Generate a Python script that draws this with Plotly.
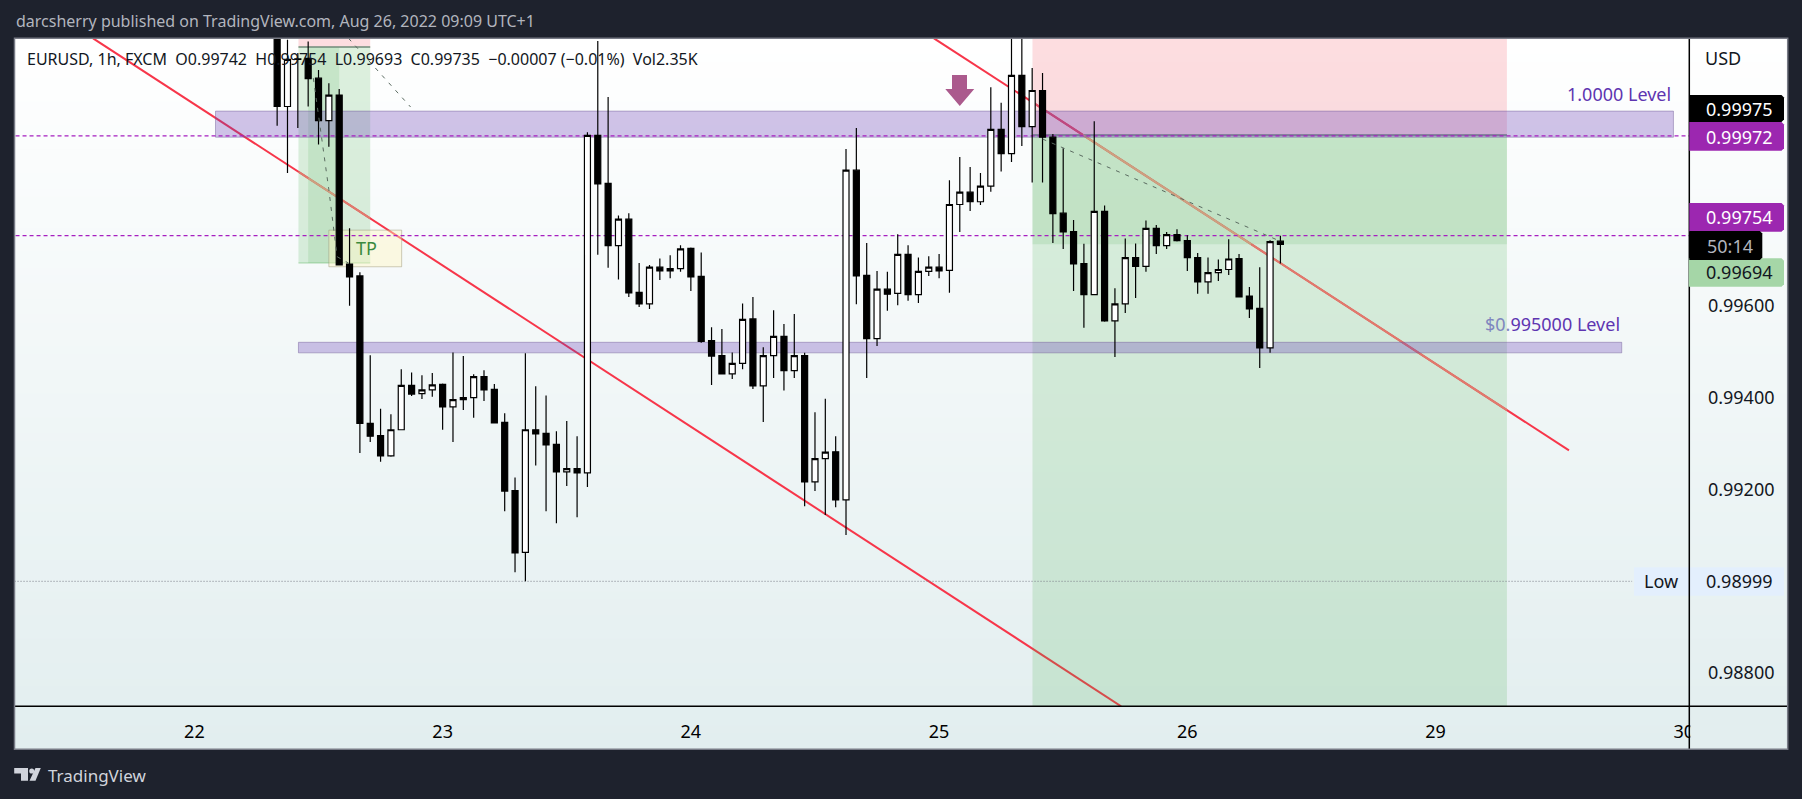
import plotly.graph_objects as go

W, H = 1802, 799
FONT = "Noto Sans"

# ---------- data ----------
bar_index = list(range(8, 106))
opens = [1.00350,1.00036,1.00139,1.00141,1.00098,1.00005,1.00061,0.99692,0.99666,0.99344,0.99317,0.99273,0.99330,0.99427,0.99409,0.99417,0.99429,0.99380,0.99396,0.99400,0.99446,0.99418,0.99346,0.99197,0.99062,0.99330,0.99322,0.99298,0.99238,0.99245,0.99236,0.99973,0.99868,0.99732,0.99790,0.99630,0.99605,0.99685,0.99677,0.99682,0.99726,0.99665,0.99525,0.99492,0.99452,0.99475,0.99572,0.99426,0.99492,0.99534,0.99459,0.99492,0.99216,0.99267,0.99282,0.99177,0.99897,0.99667,0.99529,0.99637,0.99628,0.99713,0.99625,0.99676,0.99685,0.99678,0.99822,0.99849,0.99828,0.99862,0.99986,0.99933,1.00104,0.99992,1.00071,0.99969,0.99803,0.99763,0.99693,0.99625,0.99807,0.99568,0.99605,0.99706,0.99687,0.99770,0.99732,0.99756,0.99743,0.99706,0.99653,0.99673,0.99680,0.99704,0.99622,0.99595,0.99509,0.99742]
highs = [1.00400,1.00182,1.00153,1.00178,1.00116,1.00087,1.00074,0.99770,0.99674,0.99493,0.99376,0.99364,0.99462,0.99455,0.99449,0.99454,0.99431,0.99499,0.99491,0.99451,0.99460,0.99430,0.99366,0.99226,0.99497,0.99425,0.99405,0.99327,0.99349,0.99316,0.99980,1.00179,1.00057,0.99798,0.99803,0.99694,0.99690,0.99704,0.99711,0.99733,0.99728,0.99717,0.99554,0.99550,0.99499,0.99606,0.99620,0.99510,0.99591,0.99561,0.99583,0.99498,0.99368,0.99398,0.99316,0.99943,0.99989,0.99738,0.99677,0.99675,0.99757,0.99733,0.99706,0.99709,0.99714,0.99875,0.99926,0.99904,0.99891,1.00078,1.00044,1.00230,1.00230,1.00120,1.00109,0.99976,0.99945,0.99788,0.99736,1.00004,0.99820,0.99639,0.99748,0.99737,0.99787,0.99777,0.99762,0.99768,0.99755,0.99716,0.99706,0.99702,0.99746,0.99714,0.99642,0.99685,0.99744,0.99754]
lows = [0.99994,0.99891,0.99989,1.00036,0.99953,0.99948,0.99689,0.99601,0.99279,0.99303,0.99260,0.99271,0.99330,0.99404,0.99397,0.99402,0.99330,0.99303,0.99373,0.99356,0.99393,0.99345,0.99152,0.99019,0.98999,0.99252,0.99152,0.99126,0.99207,0.99139,0.99205,0.99712,0.99684,0.99658,0.99620,0.99598,0.99594,0.99657,0.99661,0.99675,0.99633,0.99520,0.99428,0.99452,0.99441,0.99462,0.99419,0.99347,0.99443,0.99416,0.99443,0.99163,0.99196,0.99144,0.99161,0.99100,0.99604,0.99443,0.99513,0.99590,0.99602,0.99612,0.99607,0.99666,0.99661,0.99629,0.99762,0.99808,0.99821,0.99850,0.99894,0.99915,0.99950,0.99870,0.99870,0.99738,0.99725,0.99633,0.99553,0.99625,0.99566,0.99489,0.99585,0.99618,0.99675,0.99714,0.99725,0.99741,0.99677,0.99627,0.99627,0.99655,0.99668,0.99620,0.99574,0.99465,0.99498,0.99693]
closes = [1.00036,1.00139,1.00140,1.00097,1.00005,1.00061,0.99690,0.99664,0.99344,0.99316,0.99273,0.99330,0.99427,0.99408,0.99417,0.99428,0.99380,0.99396,0.99400,0.99446,0.99417,0.99345,0.99196,0.99061,0.99330,0.99321,0.99297,0.99238,0.99245,0.99236,0.99973,0.99867,0.99732,0.99790,0.99629,0.99605,0.99685,0.99677,0.99682,0.99725,0.99664,0.99523,0.99491,0.99452,0.99475,0.99571,0.99426,0.99492,0.99534,0.99459,0.99492,0.99216,0.99267,0.99281,0.99177,0.99897,0.99666,0.99529,0.99637,0.99626,0.99713,0.99625,0.99676,0.99685,0.99677,0.99822,0.99849,0.99828,0.99862,0.99986,0.99933,1.00104,0.99992,1.00071,0.99969,0.99802,0.99762,0.99692,0.99625,0.99807,0.99568,0.99605,0.99706,0.99687,0.99770,0.99732,0.99756,0.99743,0.99706,0.99653,0.99673,0.99680,0.99703,0.99620,0.99594,0.99509,0.99741,0.99735]

day_ticks = [0, 24, 48, 72, 96, 120, 144]
day_labels = ["22", "23", "24", "25", "26", "29", "30"]
price_ticks = [0.996, 0.994, 0.992, 0.988]
price_labels = ["0.99600", "0.99400", "0.99200", "0.98800"]

trend1_x, trend1_y = [-9.8, 89.6], [1.00185, 0.98726]
trend2_x, trend2_y = [71.5, 132.9], [1.00185, 0.99285]
zone_top = (2.04, 143.0, 0.99969, 1.00026)
zone_low = (10.06, 138.0, 0.99498, 0.99521)
position_x = (81.03, 126.9)
position_entry, position_now = 0.99974, 0.99735
small_pos_x = (10.06, 17.0)
small_pos_fill_x = (11.0, 14.0)
small_pos_entry, small_pos_target = 1.00166, 0.99694
tp_box = (13.0, 20.04, 0.99686, 0.99766)
level_a, level_b, low_level = 0.99972, 0.99754, 0.98999
low_line_end = 139.0

path_a_x, path_a_y = [14.9, 20.9], [1.00185, 1.00035]
path_b_x, path_b_y = [11.5, 12.4, 13.0, 13.8, 14.9], [1.00098, 0.99948, 0.99854, 0.99708, 0.99694]
path_c_x, path_c_y = [82.0, 104.86], [0.99965, 0.99743]
arrow_x = [73.25, 74.7, 74.7, 75.4, 74.0, 72.6, 73.25, 73.25]
arrow_y = [1.00105, 1.00105, 1.00074, 1.00074, 1.00037, 1.00074, 1.00074, 1.00105]

# ---------- frame geometry ----------
PL, PT, PR, PB = 14.5, 38.3, 1689.3, 706.3   # plot area
FR, FB = 1787.7, 749.3                        # outer panel
X0, DX = 194.4, 10.343
Y_TOP, Y_BOT = 1.00185, 0.98726

def fx(p): return p / W
def fy(p): return 1 - p / H

shapes = []
def rect_paper(x0, y0, x1, y1, fill=None, line=None, lw=0, layer="above"):
    shapes.append(dict(type="rect", xref="paper", yref="paper", x0=fx(x0), x1=fx(x1),
                       y0=fy(y1), y1=fy(y0), fillcolor=fill or "rgba(0,0,0,0)",
                       line=dict(color=line or "rgba(0,0,0,0)", width=lw), layer=layer))
def rect_data(x0, x1, y0, y1, fill, line=None, lw=0):
    shapes.append(dict(type="rect", xref="x", yref="y", x0=x0, x1=x1, y0=y0, y1=y1,
                       fillcolor=fill, line=dict(color=line or "rgba(0,0,0,0)", width=lw), layer="below"))
def line_data(x0, x1, y0, y1, color, width=1, dash="solid"):
    shapes.append(dict(type="line", xref="x", yref="y", x0=x0, x1=x1, y0=y0, y1=y1,
                       line=dict(color=color, width=width, dash=dash), layer="below"))

# panel gradient: each strip runs to the panel bottom, so no seams can show
STRIPS = 90
top_c, bot_c = (255, 255, 255), (226, 238, 239)
for k in range(STRIPS):
    t = k / (STRIPS - 1)
    c = tuple(round(a + (b - a) * t) for a, b in zip(top_c, bot_c))
    y0 = PT + (FB - PT) * k / STRIPS
    rect_paper(PL, y0, FR, FB, fill="rgb(%d,%d,%d)" % c, layer="below")

RED = "rgba(242,54,69,0.17)"
GREEN = "rgba(76,175,80,0.19)"
DARK = "rgba(76,175,80,0.15)"
RED_LINE = "#f7364a"
LINE_ON_LIGHT = "#e2796d"
LINE_ON_DARK = "#cf9f80"
LINE_ON_RED = "#e2506a"

# trend lines (under the position tools)
line_data(trend1_x[0], trend1_x[1], trend1_y[0], trend1_y[1], RED_LINE, 2)
line_data(trend2_x[0], trend2_x[1], trend2_y[0], trend2_y[1], RED_LINE, 2)

# short position, right
rect_data(position_x[0], position_x[1], position_entry, Y_TOP, RED)
rect_data(position_x[0], position_x[1], Y_BOT, position_entry, GREEN)
rect_data(position_x[0], position_x[1], position_now, position_entry, DARK)
line_data(position_x[0], position_x[1], position_entry, position_entry, "#6f8a78", 1.5)

# short position, left
rect_data(small_pos_x[0], small_pos_x[1], small_pos_entry, Y_TOP, RED)
rect_data(small_pos_x[0], small_pos_x[1], small_pos_target, small_pos_entry, GREEN)
rect_data(small_pos_fill_x[0], small_pos_fill_x[1], small_pos_target, small_pos_entry, DARK)
line_data(small_pos_x[0], small_pos_x[1], small_pos_entry, small_pos_entry, "#6f8a78", 1.5)
line_data(small_pos_x[0], small_pos_x[1], small_pos_target, small_pos_target, "rgba(76,175,80,0.3)", 1.5)

# TP box
rect_data(tp_box[0], tp_box[1], tp_box[2], tp_box[3], "rgba(255,245,190,0.42)", "rgba(150,145,110,0.45)", 1)

# trend-line stretches that lie under the translucent tools
def on_line(xs, ys, y):
    return xs[0] + (y - ys[0]) * (xs[1] - xs[0]) / (ys[1] - ys[0])
def at_x(xs, ys, x):
    return ys[0] + (x - xs[0]) * (ys[1] - ys[0]) / (xs[1] - xs[0])
def stretch(xs, ys, x0, x1, color):
    line_data(x0, x1, at_x(xs, ys, x0), at_x(xs, ys, x1), color, 2)

t2_entry = on_line(trend2_x, trend2_y, position_entry)
t2_now = on_line(trend2_x, trend2_y, position_now)
stretch(trend2_x, trend2_y, position_x[0], t2_entry, LINE_ON_RED)
stretch(trend2_x, trend2_y, t2_entry, t2_now, LINE_ON_DARK)
stretch(trend2_x, trend2_y, t2_now, position_x[1], LINE_ON_LIGHT)
stretch(trend1_x, trend1_y, small_pos_x[0], small_pos_fill_x[0], LINE_ON_LIGHT)
stretch(trend1_x, trend1_y, small_pos_fill_x[0], small_pos_fill_x[1], LINE_ON_DARK)
stretch(trend1_x, trend1_y, small_pos_fill_x[1], small_pos_x[1], LINE_ON_LIGHT)

# zones
rect_data(zone_top[0], zone_top[1], zone_top[2], zone_top[3], "rgba(103,58,183,0.30)", "rgba(110,90,150,0.45)", 1)
rect_data(zone_low[0], zone_low[1], zone_low[2], zone_low[3], "rgba(103,58,183,0.30)", "rgba(110,90,150,0.45)", 1)

# levels
line_data(-20, 150, level_a, level_a, "#a61fc0", 1.2, "4px,3px")
line_data(-20, 150, level_b, level_b, "#a61fc0", 1.2, "4px,3px")
line_data(-20, low_line_end, low_level, low_level, "#787b86", 1, "1px,2px")

# ---------- chrome above the plot ----------
rect_paper(PR + 1, PB + 1, FR - 1, FB - 1, fill="#e3eeef")
rect_paper(1634, 567.3, 1784, 595.7, fill="#e3effd")
shapes.append(dict(type="line", xref="paper", yref="paper", x0=fx(PR), x1=fx(PR), y0=fy(PT), y1=fy(FB),
                   line=dict(color="#000000", width=1.5), layer="above"))
shapes.append(dict(type="line", xref="paper", yref="paper", x0=fx(PL), x1=fx(FR), y0=fy(PB), y1=fy(PB),
                   line=dict(color="#000000", width=1.5), layer="above"))
rect_paper(PL, PT, FR, FB, line="#787b86", lw=1.5)

def right_round(x0, y0, x1, y1, fill, r=2.5):
    shapes.append(dict(type="path", xref="paper", yref="paper", layer="above", fillcolor=fill,
                       line=dict(width=0),
                       path="M%f,%f L%f,%f L%f,%f L%f,%f L%f,%f L%f,%f Z" % (
                           fx(x0), fy(y0), fx(x1 - r), fy(y0), fx(x1), fy(y0 + r),
                           fx(x1), fy(y1 - r), fx(x1 - r), fy(y1), fx(x0), fy(y1))))

right_round(PR, 95, 1784, 122, "#000000")
right_round(PR, 122, 1784, 150.7, "#9c27b0")
right_round(PR, 203, 1784, 231.7, "#9c27b0")
right_round(PR - 0.5, 258.3, 1784, 286.7, "#a5d6a7")
right_round(PR, 231, 1762.3, 260, "#000000")

LOGO = "#d1d4dc"
shapes.append(dict(type="path", xref="paper", yref="paper", layer="above", fillcolor=LOGO, line=dict(width=0),
                   path="M%f,%f L%f,%f L%f,%f L%f,%f L%f,%f L%f,%f Z" % (
                       fx(14.2), fy(768), fx(28), fy(768), fx(28), fy(780.7),
                       fx(21), fy(780.7), fx(21), fy(773.6), fx(14.2), fy(773.6))))
shapes.append(dict(type="circle", xref="paper", yref="paper", layer="above", fillcolor=LOGO, line=dict(width=0),
                   x0=fx(29.2), x1=fx(34.2), y0=fy(773.6), y1=fy(768.4)))
shapes.append(dict(type="path", xref="paper", yref="paper", layer="above", fillcolor=LOGO, line=dict(width=0),
                   path="M%f,%f L%f,%f L%f,%f L%f,%f Z" % (
                       fx(35.5), fy(768), fx(40.8), fy(768), fx(35.5), fy(780.7), fx(29.5), fy(780.7))))

def note(x, y, text, size=17, color="#131722", anchor="left"):
    return dict(xref="paper", yref="paper", x=fx(x), y=fy(y), text=text, showarrow=False,
                xanchor=anchor, yanchor="middle", font=dict(family=FONT, size=size, color=color))

annotations = [
    note(14, 21, "darcsherry published on TradingView.com, Aug 26, 2022 09:09 UTC+1", 16, "#b2b5be"),
    note(25, 59.3, "EURUSD, 1h, FXCM&nbsp;&nbsp;O0.99742&nbsp;&nbsp;H0.99754&nbsp;&nbsp;L0.99693&nbsp;&nbsp;C0.99735&nbsp;&nbsp;\u22120.00007 (\u22120.01%)&nbsp;&nbsp;Vol2.35K", 16, "#131722"),
    note(46, 775, "TradingView", 17, "#d1d4dc"),
    note(1702.7, 58, "USD", 18),
    note(1672.7, 94, "1.0000 Level", 18, "#5e35b1", "right"),
    note(1621.5, 324, '<span style="color:#7f86bf">$0.</span>995000 Level', 18, "#5e35b1", "right"),
    note(354, 247.7, "TP", 18, "#3a8a3e"),
    note(1739.5, 109.3, "0.99975", 18, "#ffffff", "center"),
    note(1739.5, 136.7, "0.99972", 18, "#ffffff", "center"),
    note(1739.5, 216.7, "0.99754", 18, "#ffffff", "center"),
    note(1729.7, 245.7, "50:14", 18, "#b2b5be", "center"),
    note(1739.5, 272.3, "0.99694", 18, "#131722", "center"),
    note(1739.5, 581, "0.98999", 18, "#131722", "center"),
    note(1660.7, 581, "Low", 18, "#131722", "center"),
]

# ---------- traces ----------
fig = go.Figure()
DASH = dict(color="#5a6a60", width=1, dash="4px,6px")
for px_, py_ in [(path_a_x, path_a_y), (path_b_x, path_b_y), (path_c_x, path_c_y)]:
    fig.add_trace(go.Scatter(x=px_, y=py_, mode="lines", line=DASH, hoverinfo="skip", showlegend=False))
fig.add_trace(go.Scatter(x=arrow_x, y=arrow_y, mode="lines", fill="toself", fillcolor="#ab5a8d",
                         line=dict(color="#ab5a8d", width=0), hoverinfo="skip", showlegend=False))
fig.add_trace(go.Candlestick(
    x=bar_index, open=opens, high=highs, low=lows, close=closes, showlegend=False, whiskerwidth=0,
    increasing=dict(fillcolor="#ffffff", line=dict(color="#000000", width=1.2)),
    decreasing=dict(fillcolor="#000000", line=dict(color="#000000", width=1.2)),
))

fig.update_layout(
    width=W, height=H, autosize=False,
    margin=dict(l=0, r=0, t=0, b=0, pad=0),
    paper_bgcolor="#1e222d", plot_bgcolor="rgba(0,0,0,0)",
    showlegend=False, boxgap=0.3, boxgroupgap=0.17, shapes=shapes, annotations=annotations,
    font=dict(family=FONT, size=18, color="#131722"),
    xaxis=dict(domain=[fx(PL), fx(PR)], range=[(PL - X0) / DX, (PR - X0) / DX], automargin=False,
               tickmode="array", tickvals=day_ticks, ticktext=day_labels,
               showgrid=False, zeroline=False, showline=False, rangeslider=dict(visible=False),
               ticks="outside", ticklen=9, tickcolor="rgba(0,0,0,0)", tickfont=dict(family=FONT, size=18, color="#000000")),
    yaxis=dict(domain=[fy(PB), fy(PT)], range=[Y_BOT, Y_TOP], side="right", automargin=False,
               tickmode="array", tickvals=price_ticks, ticktext=price_labels,
               showgrid=False, zeroline=False, showline=False,
               ticks="outside", ticklen=14, tickcolor="rgba(0,0,0,0)", tickfont=dict(family=FONT, size=18, color="#131722")),
)

fig.write_html("out.html", config=dict(displayModeBar=False),
               post_script="document.body.style.margin='0';document.body.style.overflow='hidden';document.body.style.background='#1e222d';")
